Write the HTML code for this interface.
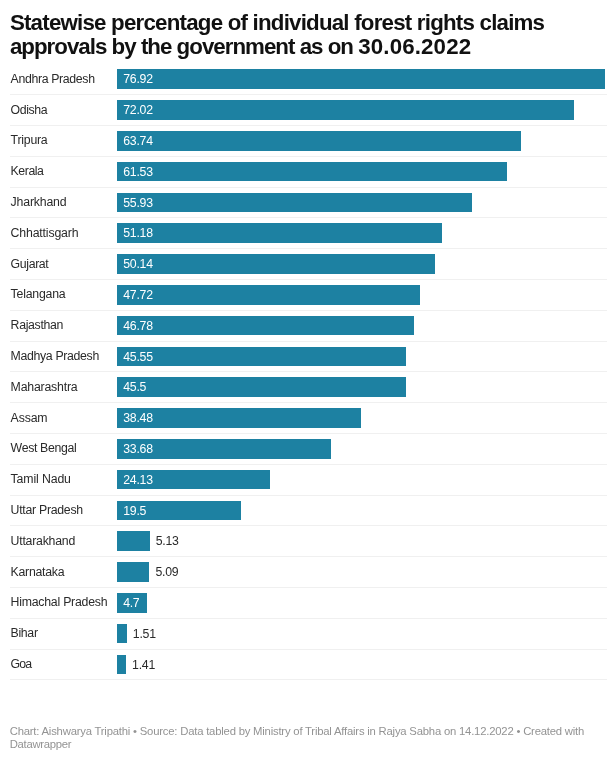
<!DOCTYPE html>
<html><head><meta charset="utf-8"><title>Chart</title>
<style>
html,body{margin:0;padding:0;background:#fff;}
body{width:616px;height:761px;position:relative;overflow:hidden;font-family:"Liberation Sans",sans-serif;color:#222;}
h1{position:absolute;left:9.9px;top:11.27px;margin:0;font-size:22.3px;line-height:24.0px;font-weight:700;color:#111;white-space:nowrap;}
.row{position:absolute;left:0;width:616px;height:19.6px;font-size:12.3px;line-height:16px;}
.l{position:absolute;left:10.6px;color:#2a2a2a;white-space:nowrap;}
.b{position:absolute;left:117.2px;top:0;height:19.6px;background:#1d81a2;}
.v{position:absolute;white-space:nowrap;}
.v.in{color:#fff;}
.v.out{color:#2a2a2a;}
.s{position:absolute;left:9.7px;width:597px;top:24.8px;height:1px;background:#f0f0f0;}
.f{position:absolute;left:9.7px;top:724.93px;width:600px;font-size:11.3px;line-height:12.9px;color:#939393;white-space:nowrap;}
</style></head><body>
<h1><span style="letter-spacing:-0.783px">Statewise percentage of individual forest rights claims</span><br><span style="letter-spacing:-0.980px">approvals by the government as on </span><span style="letter-spacing:0.149px">30.06.2022</span></h1>
<div class="row" style="top:69.45px"><span class="l" style="top:1.39px;letter-spacing:-0.346px">Andhra Pradesh</span><div class="b" style="width:487.80px"></div><span class="v in" style="left:123.2px;top:1.99px;letter-spacing:-0.219px">76.92</span><div class="s"></div></div>
<div class="row" style="top:100.25px"><span class="l" style="top:1.39px;letter-spacing:-0.397px">Odisha</span><div class="b" style="width:456.73px"></div><span class="v in" style="left:123.2px;top:1.99px;letter-spacing:-0.219px">72.02</span><div class="s"></div></div>
<div class="row" style="top:131.05px"><span class="l" style="top:1.39px;letter-spacing:-0.229px">Tripura</span><div class="b" style="width:404.22px"></div><span class="v in" style="left:123.2px;top:1.99px;letter-spacing:-0.219px">63.74</span><div class="s"></div></div>
<div class="row" style="top:161.85px"><span class="l" style="top:1.39px;letter-spacing:-0.450px">Kerala</span><div class="b" style="width:390.20px"></div><span class="v in" style="left:123.2px;top:1.99px;letter-spacing:-0.219px">61.53</span><div class="s"></div></div>
<div class="row" style="top:192.65px"><span class="l" style="top:1.39px;letter-spacing:-0.180px">Jharkhand</span><div class="b" style="width:354.69px"></div><span class="v in" style="left:123.2px;top:1.99px;letter-spacing:-0.219px">55.93</span><div class="s"></div></div>
<div class="row" style="top:223.45px"><span class="l" style="top:1.39px;letter-spacing:-0.163px">Chhattisgarh</span><div class="b" style="width:324.57px"></div><span class="v in" style="left:123.2px;top:1.99px;letter-spacing:-0.219px">51.18</span><div class="s"></div></div>
<div class="row" style="top:254.25px"><span class="l" style="top:1.39px;letter-spacing:-0.359px">Gujarat</span><div class="b" style="width:317.97px"></div><span class="v in" style="left:123.2px;top:1.99px;letter-spacing:-0.219px">50.14</span><div class="s"></div></div>
<div class="row" style="top:285.05px"><span class="l" style="top:1.39px;letter-spacing:-0.219px">Telangana</span><div class="b" style="width:302.62px"></div><span class="v in" style="left:123.2px;top:1.99px;letter-spacing:-0.219px">47.72</span><div class="s"></div></div>
<div class="row" style="top:315.85px"><span class="l" style="top:1.39px;letter-spacing:-0.322px">Rajasthan</span><div class="b" style="width:296.66px"></div><span class="v in" style="left:123.2px;top:1.99px;letter-spacing:-0.219px">46.78</span><div class="s"></div></div>
<div class="row" style="top:346.65px"><span class="l" style="top:1.39px;letter-spacing:-0.333px">Madhya Pradesh</span><div class="b" style="width:288.86px"></div><span class="v in" style="left:123.2px;top:1.99px;letter-spacing:-0.219px">45.55</span><div class="s"></div></div>
<div class="row" style="top:377.45px"><span class="l" style="top:1.39px;letter-spacing:-0.198px">Maharashtra</span><div class="b" style="width:288.55px"></div><span class="v in" style="left:123.2px;top:1.99px;letter-spacing:-0.240px">45.5</span><div class="s"></div></div>
<div class="row" style="top:408.25px"><span class="l" style="top:1.39px;letter-spacing:-0.152px">Assam</span><div class="b" style="width:244.03px"></div><span class="v in" style="left:123.2px;top:1.99px;letter-spacing:-0.219px">38.48</span><div class="s"></div></div>
<div class="row" style="top:439.05px"><span class="l" style="top:1.39px;letter-spacing:-0.344px">West Bengal</span><div class="b" style="width:213.59px"></div><span class="v in" style="left:123.2px;top:1.99px;letter-spacing:-0.219px">33.68</span><div class="s"></div></div>
<div class="row" style="top:469.85px"><span class="l" style="top:1.39px;letter-spacing:-0.128px">Tamil Nadu</span><div class="b" style="width:153.02px"></div><span class="v in" style="left:123.2px;top:1.99px;letter-spacing:-0.219px">24.13</span><div class="s"></div></div>
<div class="row" style="top:500.65px"><span class="l" style="top:1.39px;letter-spacing:-0.281px">Uttar Pradesh</span><div class="b" style="width:123.66px"></div><span class="v in" style="left:123.2px;top:1.99px;letter-spacing:-0.240px">19.5</span><div class="s"></div></div>
<div class="row" style="top:531.45px"><span class="l" style="top:1.39px;letter-spacing:-0.237px">Uttarakhand</span><div class="b" style="width:32.53px"></div><span class="v out" style="left:155.7px;top:1.99px;letter-spacing:-0.240px">5.13</span><div class="s"></div></div>
<div class="row" style="top:562.25px"><span class="l" style="top:1.39px;letter-spacing:-0.268px">Karnataka</span><div class="b" style="width:32.28px"></div><span class="v out" style="left:155.5px;top:1.99px;letter-spacing:-0.240px">5.09</span><div class="s"></div></div>
<div class="row" style="top:593.05px"><span class="l" style="top:1.39px;letter-spacing:-0.235px">Himachal Pradesh</span><div class="b" style="width:29.81px"></div><span class="v in" style="left:123.2px;top:1.99px;letter-spacing:-0.289px">4.7</span><div class="s"></div></div>
<div class="row" style="top:623.85px"><span class="l" style="top:1.39px;letter-spacing:-0.332px">Bihar</span><div class="b" style="width:9.58px"></div><span class="v out" style="left:132.8px;top:1.99px;letter-spacing:-0.240px">1.51</span><div class="s"></div></div>
<div class="row" style="top:654.65px"><span class="l" style="top:1.39px;letter-spacing:-0.930px">Goa</span><div class="b" style="width:8.94px"></div><span class="v out" style="left:132.1px;top:1.99px;letter-spacing:-0.240px">1.41</span><div class="s"></div></div>
<div class="f"><span style="letter-spacing:-0.205px">Chart: Aishwarya Tripathi • Source: Data tabled by Ministry of Tribal Affairs in Rajya Sabha on 14.12.2022 • Created with</span><br><span style="letter-spacing:-0.275px">Datawrapper</span></div>
</body></html>
